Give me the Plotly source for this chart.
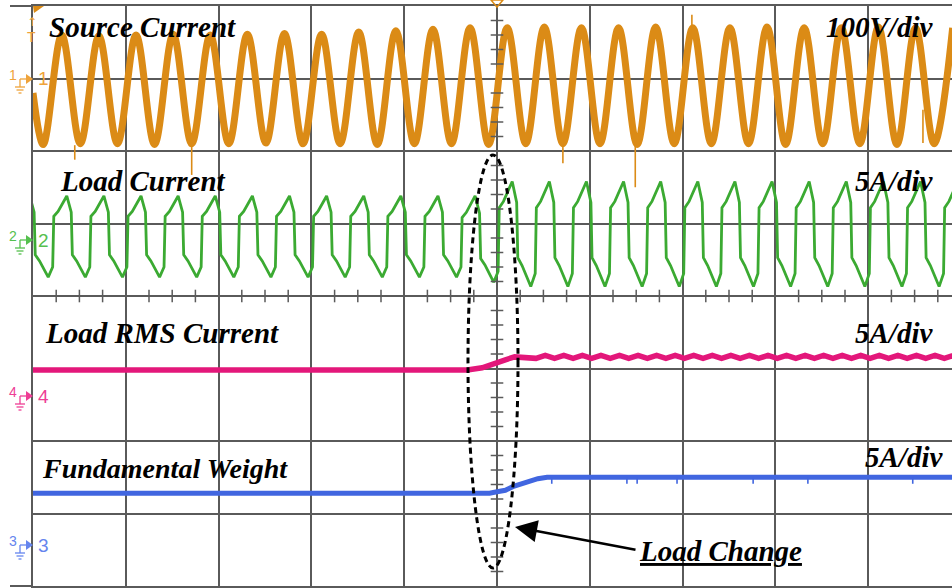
import plotly.graph_objects as go

# ---------------- graticule geometry (10 x 8 divisions) ----------------
W, H = 952, 588
LEFT, TOP, BOTTOM = 33, 6, 2
DIV_X = 92.8                      # pixels per horizontal division
PLOT_W = W - LEFT
PLOT_H = H - TOP - BOTTOM
X_MAX = PLOT_W / DIV_X            # right edge of the screen is cut off

GRID = "#5a5a5a"
ORANGE, GREEN, PINK, BLUE = "#DB8B16", "#3BAA32", "#E3177A", "#4166E0"

# ---------------- channel 1 : source current (div units) ----------------
src_start = (0.0, 2.80)
src_trough_x = [0.11, 0.51, 0.91, 1.31, 1.71, 2.11, 2.51, 2.91, 3.31, 3.71,
                4.11, 4.51, 4.91, 5.31, 5.71, 6.11, 6.51, 6.91, 7.31, 7.71,
                8.11, 8.51, 8.91, 9.31, 9.71]
src_trough_y = [2.09, 2.10, 2.10, 2.09, 2.10, 2.10, 2.11, 2.10, 2.10, 2.09,
                2.10, 2.10, 2.09, 2.10, 2.10, 2.10, 2.09, 2.10, 2.10, 2.10,
                2.09, 2.10, 2.10, 2.09, 2.10]
src_peak_x = [0.31, 0.71, 1.11, 1.51, 1.91, 2.31, 2.71, 3.11, 3.51, 3.91,
              4.31, 4.71, 5.11, 5.51, 5.91, 6.31, 6.71, 7.11, 7.51, 7.91,
              8.31, 8.71, 9.11, 9.51, 9.91]
src_peak_y = [3.60, 3.59, 3.60, 3.61, 3.60, 3.61, 3.62, 3.61, 3.64, 3.66,
              3.68, 3.70, 3.70, 3.71, 3.70, 3.70, 3.71, 3.70, 3.70, 3.71,
              3.70, 3.70, 3.71, 3.70, 3.70]
# isolated glitches on the source trace: x, from, to
src_spike_x = [0.45, 1.71, 5.71, 6.49, 7.10, 9.59]
src_spike_y0 = [2.08, 2.08, 2.15, 2.15, 3.67, 2.57]
src_spike_y1 = [1.88, 1.67, 1.83, 1.50, 3.88, 2.11]

# ---------------- channel 2 : load current ----------------
load_rise_x = [-0.18, 0.22, 0.62, 1.02, 1.42, 1.82, 2.22, 2.62, 3.02, 3.42,
               3.82, 4.22, 4.62, 5.02, 5.42, 5.82, 6.22, 6.62, 7.02, 7.42,
               7.82, 8.22, 8.62, 9.02, 9.42, 9.82]
load_hi = [1.38] * 13 + [1.58] * 13
load_lo = [0.26] * 12 + [0.19] + [0.13] * 13
HALF = 0.20                        # half a mains cycle, in divisions
# waveform outline inside each half cycle (fraction of half cycle, level)
load_hi_t = [0.02, 0.25, 0.50, 0.72, 0.96]
load_hi_f = [0.50, 0.62, 0.82, 1.00, 0.60]
load_lo_t = [0.02, 0.25, 0.50, 0.72, 0.96]
load_lo_f = [-0.45, -0.60, -0.82, -1.00, -0.75]

# ---------------- channel 4 : load RMS current ----------------
rms_x = [0.0, 4.68, 4.84, 4.92, 5.00, 5.09, 5.19]
rms_y = [-1.02, -1.02, -0.99, -0.95, -0.91, -0.88, -0.84]
rms_level_after = -0.84
rms_ripple = [-0.02, 0.02]

# ---------------- channel 3 : fundamental weight ----------------
fw_x = [0.0, 4.92, 5.00, 5.09, 5.17, 5.27, 5.36, 5.44, 5.54, 5.68, X_MAX]
fw_y = [-2.72, -2.72, -2.70, -2.68, -2.63, -2.59, -2.55, -2.52, -2.50, -2.50, -2.50]
fw_spike_x = [5.59, 6.40, 6.51, 6.94, 7.76, 8.35, 9.48]
fw_spike_depth = 0.09

# ---------------- build traces ----------------
fig = go.Figure()

sx, sy = [src_start[0]], [src_start[1]]
for tx, ty, pxv, pyv in zip(src_trough_x, src_trough_y, src_peak_x, src_peak_y):
    sx += [tx, pxv]
    sy += [ty, pyv]
fig.add_trace(go.Scatter(x=sx, y=sy, mode="lines",
                         line=dict(color=ORANGE, width=7, shape="spline", smoothing=1)))
gx, gy = [], []
for x, a, b in zip(src_spike_x, src_spike_y0, src_spike_y1):
    gx += [x, x, None]
    gy += [a, b, None]
fig.add_trace(go.Scatter(x=gx, y=gy, mode="lines", line=dict(color=ORANGE, width=1.6)))

lx, ly = [], []
for r, hi, lo in zip(load_rise_x, load_hi, load_lo):
    mid, amp = (hi + lo) / 2, (hi - lo) / 2
    for t, f in zip(load_hi_t, load_hi_f):
        lx.append(r + t * HALF)
        ly.append(mid + f * amp)
    for t, f in zip(load_lo_t, load_lo_f):
        lx.append(r + HALF + t * HALF)
        ly.append(mid + f * amp)
fig.add_trace(go.Scatter(x=lx, y=ly, mode="lines", line=dict(color=GREEN, width=2.8)))

rx, ry = list(rms_x), list(rms_y)
for r in load_rise_x[14:]:
    for i, q in enumerate([0.0, 0.5, 1.0, 1.5]):
        rx.append(r + q * HALF)
        ry.append(rms_level_after + rms_ripple[i % 2])
rx.append(X_MAX)
ry.append(rms_level_after)
fig.add_trace(go.Scatter(x=rx, y=ry, mode="lines", line=dict(color=PINK, width=5.5)))

fig.add_trace(go.Scatter(x=fw_x, y=fw_y, mode="lines", line=dict(color=BLUE, width=5)))
bx, by = [], []
for x in fw_spike_x:
    bx += [x, x, None]
    by += [-2.50, -2.50 - fw_spike_depth, None]
fig.add_trace(go.Scatter(x=bx, y=by, mode="lines", line=dict(color=BLUE, width=1.6)))

# minor ticks on the centre cross-hair
vt = [i * 0.2 - 4 for i in range(41) if i % 5]
ht = [i * 0.25 for i in range(40) if i % 4 and i * 0.25 < X_MAX]
fig.add_trace(go.Scatter(x=[5] * len(vt), y=vt, mode="markers",
                         marker=dict(symbol="line-ew", size=9, line=dict(color=GRID, width=1.5))))
fig.add_trace(go.Scatter(x=ht, y=[0] * len(ht), mode="markers",
                         marker=dict(symbol="line-ns", size=9, line=dict(color=GRID, width=1.5))))


def pxx(p):
    return (p - LEFT) / PLOT_W


def pxy(p):
    return (H - BOTTOM - p) / PLOT_H


def dx(p):
    return (p - LEFT) / DIV_X


def dy(p):
    return 4 - (p - TOP) / (PLOT_H / 8)


shapes = []
annotations = []

# load-change marker: dotted ellipse and arrow
shapes.append(dict(type="circle", xref="x", yref="y", layer="above",
                   x0=dx(468), x1=dx(518), y0=dy(155), y1=dy(568),
                   line=dict(color="black", width=3, dash="6px,4px")))
annotations.append(dict(xref="x", yref="y", axref="x", ayref="y",
                        x=dx(515), y=dy(527), ax=dx(637), ay=dy(550), text="",
                        showarrow=True, arrowhead=2, arrowsize=1.7, arrowwidth=2.6,
                        arrowcolor="black", standoff=0))

SERIF = dict(family="Liberation Serif", size=29, color="black")


def label(text, x, y, anchor="left", size=29):
    annotations.append(dict(xref="paper", yref="paper", x=pxx(x), y=pxy(y),
                            xanchor=anchor, yanchor="middle", showarrow=False,
                            text="<b><i>" + text + "</i></b>",
                            font=dict(SERIF, size=size)))


label("Source Current", 47, 27)
label("100V/div", 935, 27, "right")
label("Load Current", 58, 181)
label("5A/div", 935, 181, "right")
label("Load RMS Current", 43, 333)
label("5A/div", 935, 333, "right")
label("Fundamental Weight", 40, 468, size=28)
label("5A/div", 945, 457, "right")
label("<u>Load Change</u>", 637, 551)

# channel ground markers on the left
channels = [("1", 79, "#EFA33A"), ("2", 240, "#55C04E"), ("4", 396, "#EE3E95"), ("3", 545, "#6585EE")]
for num, c, col in channels:
    annotations.append(dict(xref="paper", yref="paper", x=pxx(13), y=pxy(c - 4),
                            xanchor="center", yanchor="middle", showarrow=False, text=num,
                            font=dict(family="Liberation Sans", size=14, color=col)))
    annotations.append(dict(xref="paper", yref="paper", x=pxx(43), y=pxy(c),
                            xanchor="center", yanchor="middle", showarrow=False, text=num,
                            font=dict(family="Liberation Sans", size=19, color=col)))
    ln = dict(color=col, width=1.3)
    shapes.append(dict(type="line", xref="paper", yref="paper", x0=pxx(20), x1=pxx(27),
                       y0=pxy(c), y1=pxy(c), line=ln))
    shapes.append(dict(type="line", xref="paper", yref="paper", x0=pxx(20), x1=pxx(20),
                       y0=pxy(c), y1=pxy(c + 8), line=ln))
    for k, w in enumerate([5, 3.5, 1.5]):
        shapes.append(dict(type="line", xref="paper", yref="paper", x0=pxx(20 - w), x1=pxx(20 + w),
                           y0=pxy(c + 8 + 3 * k), y1=pxy(c + 8 + 3 * k), line=ln))
    shapes.append(dict(type="path", xref="paper", yref="paper", line=dict(width=0), fillcolor=col,
                       path=f"M{pxx(26)},{pxy(c - 5)} L{pxx(33)},{pxy(c)} L{pxx(26)},{pxy(c + 5)} Z"))

# trigger markers
shapes.append(dict(type="path", xref="paper", yref="paper", line=dict(width=0), fillcolor=ORANGE,
                   path=f"M{pxx(33)},{pxy(6)} L{pxx(44)},{pxy(6)} L{pxx(34)},{pxy(13)} Z"))
shapes.append(dict(type="path", xref="paper", yref="paper", line=dict(color=ORANGE, width=1.5),
                   path=f"M{pxx(491)},{pxy(0)} L{pxx(503)},{pxy(0)} L{pxx(497)},{pxy(7)} Z"))
annotations.append(dict(xref="paper", yref="paper", x=pxx(25), y=pxy(13), showarrow=False,
                        text="↑", font=dict(family="DejaVu Sans", size=12, color="#EFA33A")))
annotations.append(dict(xref="paper", yref="paper", x=pxx(25), y=pxy(27), showarrow=False,
                        text="T", font=dict(family="Liberation Sans", size=14, color="#EFA33A")))
# graticule border continues into the marker margin
for yy in (6, 586):
    shapes.append(dict(type="line", xref="paper", yref="paper", x0=pxx(10), x1=0,
                       y0=pxy(yy), y1=pxy(yy), line=dict(color=GRID, width=2)))

fig.update_layout(
    width=W, height=H, margin=dict(l=LEFT, r=0, t=TOP, b=BOTTOM),
    paper_bgcolor="white", plot_bgcolor="white", showlegend=False,
    shapes=shapes, annotations=annotations,
)
fig.update_xaxes(range=[0, X_MAX], tick0=0, dtick=1, showgrid=True, gridcolor=GRID, gridwidth=2,
                 showticklabels=False, ticks="", zeroline=False,
                 showline=True, linecolor=GRID, linewidth=2, mirror=True)
fig.update_yaxes(range=[-4, 4], tick0=0, dtick=1, showgrid=True, gridcolor=GRID, gridwidth=2,
                 showticklabels=False, ticks="", zeroline=False,
                 showline=True, linecolor=GRID, linewidth=2, mirror=False)

fig.write_html("out.html")
